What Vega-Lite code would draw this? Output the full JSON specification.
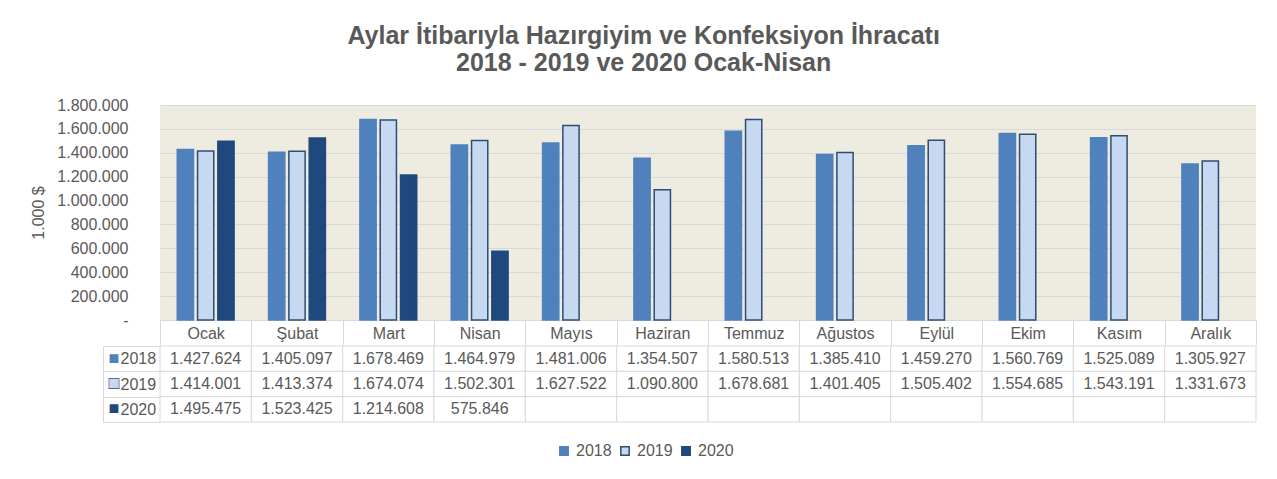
{
  "$schema": "https://vega.github.io/schema/vega-lite/v6.json",
  "background": "white",
  "padding": {"left": 30, "top": 24, "right": 10, "bottom": 5},
  "config": {
    "locale": {"number": {"decimal": ",", "thousands": ".", "grouping": [3], "currency": ["", ""]}},
    "font": "Liberation Sans",
    "concat": {"spacing": 0},
    "axis": {"labelFont": "Liberation Sans", "labelFontSize": 16, "labelColor": "#595959", "titleFont": "Liberation Sans"}
  },
  "title": {
    "text": ["Aylar İtibarıyla Hazırgiyim ve Konfeksiyon İhracatı", "2018 - 2019 ve 2020 Ocak-Nisan"],
    "fontSize": 25, "fontWeight": "bold", "color": "#595959", "lineHeight": 27, "anchor": "middle", "offset": 21,
    "font": "Liberation Sans"
  },
  "datasets": {
    "ihracat": [
      {"ay": "Ocak", "yil": "2018", "deger": 1427624},
      {"ay": "Şubat", "yil": "2018", "deger": 1405097},
      {"ay": "Mart", "yil": "2018", "deger": 1678469},
      {"ay": "Nisan", "yil": "2018", "deger": 1464979},
      {"ay": "Mayıs", "yil": "2018", "deger": 1481006},
      {"ay": "Haziran", "yil": "2018", "deger": 1354507},
      {"ay": "Temmuz", "yil": "2018", "deger": 1580513},
      {"ay": "Ağustos", "yil": "2018", "deger": 1385410},
      {"ay": "Eylül", "yil": "2018", "deger": 1459270},
      {"ay": "Ekim", "yil": "2018", "deger": 1560769},
      {"ay": "Kasım", "yil": "2018", "deger": 1525089},
      {"ay": "Aralık", "yil": "2018", "deger": 1305927},
      {"ay": "Ocak", "yil": "2019", "deger": 1414001},
      {"ay": "Şubat", "yil": "2019", "deger": 1413374},
      {"ay": "Mart", "yil": "2019", "deger": 1674074},
      {"ay": "Nisan", "yil": "2019", "deger": 1502301},
      {"ay": "Mayıs", "yil": "2019", "deger": 1627522},
      {"ay": "Haziran", "yil": "2019", "deger": 1090800},
      {"ay": "Temmuz", "yil": "2019", "deger": 1678681},
      {"ay": "Ağustos", "yil": "2019", "deger": 1401405},
      {"ay": "Eylül", "yil": "2019", "deger": 1505402},
      {"ay": "Ekim", "yil": "2019", "deger": 1554685},
      {"ay": "Kasım", "yil": "2019", "deger": 1543191},
      {"ay": "Aralık", "yil": "2019", "deger": 1331673},
      {"ay": "Ocak", "yil": "2020", "deger": 1495475},
      {"ay": "Şubat", "yil": "2020", "deger": 1523425},
      {"ay": "Mart", "yil": "2020", "deger": 1214608},
      {"ay": "Nisan", "yil": "2020", "deger": 575846},
      {"ay": "Mayıs", "yil": "2020", "deger": null},
      {"ay": "Haziran", "yil": "2020", "deger": null},
      {"ay": "Temmuz", "yil": "2020", "deger": null},
      {"ay": "Ağustos", "yil": "2020", "deger": null},
      {"ay": "Eylül", "yil": "2020", "deger": null},
      {"ay": "Ekim", "yil": "2020", "deger": null},
      {"ay": "Kasım", "yil": "2020", "deger": null},
      {"ay": "Aralık", "yil": "2020", "deger": null}
    ]
  },
  "spacing": -10,
  "vconcat": [
    {
      "width": 1096,
      "height": 215,
      "view": {"fill": "#EEECE1", "stroke": null},
      "data": {"name": "ihracat"},
      "mark": {"type": "bar", "strokeWidth": 1.5},
      "encoding": {
        "x": {
          "field": "ay", "type": "nominal", "sort": null,
          "scale": {"paddingInner": 0, "paddingOuter": 0},
          "axis": {"title": null, "labelAngle": 0, "tickBand": "extent", "tickSize": 25, "tickColor": "#D9D9D9", "domainColor": "#D9D9D9", "labelPadding": -20, "labelBaseline": "top"}
        },
        "xOffset": {"field": "yil", "type": "nominal", "scale": {"paddingInner": 0.2, "paddingOuter": 0.85}},
        "y": {
          "field": "deger", "type": "quantitative",
          "scale": {"domain": [0, 1800000], "nice": false},
          "axis": {"title": "1.000 $", "titleFontSize": 16, "titleFontWeight": "normal", "titleColor": "#595959", "titlePadding": 10,
            "values": [0, 200000, 400000, 600000, 800000, 1000000, 1200000, 1400000, 1600000, 1800000],
            "format": ",d", "labelExpr": "datum.value == 0 ? '-' : datum.label",
            "labelPadding": 32, "ticks": false, "domain": false, "gridColor": "#D9D9D9", "gridWidth": 1}
        },
        "color": {
          "field": "yil", "type": "nominal",
          "scale": {"domain": ["2018", "2019", "2020"], "range": ["#4F81BD", "#C6D9F1", "#1F497D"]},
          "legend": {"title": null, "orient": "none", "legendX": 396, "legendY": 338, "direction": "horizontal", "symbolType": "square", "symbolSize": 70, "labelFontSize": 16, "labelColor": "#595959", "labelFont": "Liberation Sans", "columnPadding": 5, "labelOffset": 4, "symbolStrokeWidth": 1.5}
        },
        "stroke": {
          "field": "yil", "type": "nominal",
          "scale": {"domain": ["2018", "2019", "2020"], "range": ["#4F81BD", "#2C4D75", "#1F497D"]},
          "legend": {"title": null, "orient": "none", "legendX": 396, "legendY": 338, "direction": "horizontal", "symbolType": "square", "symbolSize": 70, "labelFontSize": 16, "labelColor": "#595959", "labelFont": "Liberation Sans", "columnPadding": 5, "labelOffset": 4, "symbolStrokeWidth": 1.5}
        }
      }
    },
    {
      "width": 1096,
      "height": 76,
      "view": {"stroke": null},
      "data": {"name": "ihracat"},
      "encoding": {
        "x": {"field": "ay", "type": "nominal", "sort": null, "scale": {"paddingInner": 0, "paddingOuter": 0}, "axis": null},
        "y": {"field": "yil", "type": "nominal", "scale": {"paddingInner": 0, "paddingOuter": 0}}
      },
      "layer": [
        {
          "mark": {"type": "rect", "fill": "white", "stroke": "#D9D9D9", "strokeWidth": 1},
          "encoding": {
            "y": {"field": "yil", "type": "nominal", "scale": {"paddingInner": 0, "paddingOuter": 0},
              "axis": {"title": null, "orient": "left", "offset": 57, "domainColor": "#D9D9D9", "tickColor": "#D9D9D9", "tickBand": "extent", "tickSize": -57, "labelAlign": "left", "labelPadding": 40}}
          }
        },
        {
          "transform": [{"filter": "isValid(datum.deger)"}],
          "mark": {"type": "text", "fontSize": 16, "color": "#595959", "font": "Liberation Sans"},
          "encoding": {
            "text": {"field": "deger", "type": "quantitative", "format": ",d"},
            "y": {"field": "yil", "type": "nominal", "scale": {"paddingInner": 0, "paddingOuter": 0},
              "axis": {"title": null, "orient": "left", "offset": 57, "domain": false, "ticks": false, "labelAlign": "left", "labelPadding": -5, "labelFontSize": 18,
                "labelExpr": "datum.value == '2019' ? '' : '■'",
                "labelColor": {"condition": {"test": "datum.value == '2018'", "value": "#4F81BD"}, "value": "#1F497D"}}}
          }
        },
        {
          "mark": {"type": "text", "text": ""},
          "encoding": {
            "y": {"field": "yil", "type": "nominal", "scale": {"paddingInner": 0, "paddingOuter": 0},
              "axis": {"title": null, "orient": "left", "offset": 57, "domain": false, "ticks": false, "labelAlign": "left", "labelPadding": -5, "labelFontSize": 18,
                "labelExpr": "datum.value == '2019' ? '■' : ''", "labelColor": "#C6D9F1"}}
          }
        },
        {
          "mark": {"type": "text", "text": ""},
          "encoding": {
            "y": {"field": "yil", "type": "nominal", "scale": {"paddingInner": 0, "paddingOuter": 0},
              "axis": {"title": null, "orient": "left", "offset": 57, "domain": false, "ticks": false, "labelAlign": "left", "labelPadding": -5, "labelFontSize": 18,
                "labelExpr": "datum.value == '2019' ? '□' : ''", "labelColor": "#1F497D"}}
          }
        }
      ],
      "resolve": {"axis": {"y": "independent"}}
    }
  ]
}
